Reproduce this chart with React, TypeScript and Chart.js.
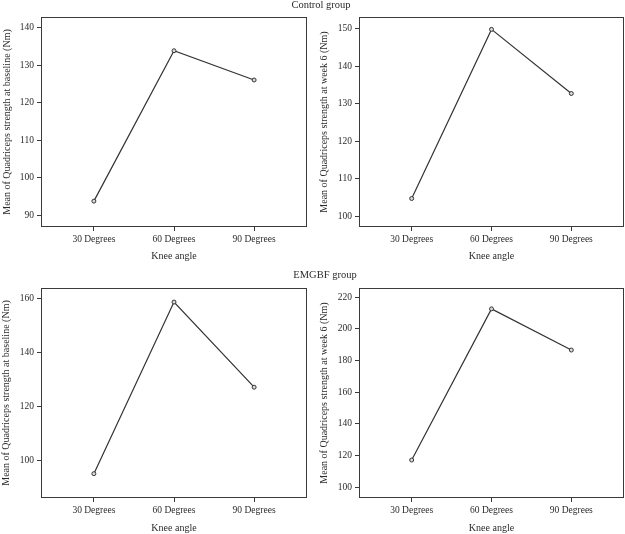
import React, { useEffect, useRef } from "react";
import { Chart, registerables } from "chart.js";

Chart.register(...registerables);

// ---- data ----
const kneeAngles = ["30 Degrees", "60 Degrees", "90 Degrees"];
const controlBaseline = [93.8, 133.9, 126.1];
const controlWeek6 = [104.7, 149.8, 132.7];
const emgbfBaseline = [95.2, 158.7, 127.2];
const emgbfWeek6 = [117.2, 212.7, 186.7];

const ticksControlBaseline = [90, 100, 110, 120, 130, 140];
const ticksControlWeek6 = [100, 110, 120, 130, 140, 150];
const ticksEmgbfBaseline = [100, 120, 140, 160];
const ticksEmgbfWeek6 = [100, 120, 140, 160, 180, 200, 220];

const groupTitles = ["Control group", "EMGBF group"];
const xTitle = "Knee angle";
const yTitleBaseline = "Mean of Quadriceps strength at baseline (Nm)";
const yTitleWeek6 = "Mean of Quadriceps strength at week 6 (Nm)";

const FONT = '"Liberation Serif", "DejaVu Serif", serif';
const INK = "#2b2b2b";

const framePlugin = {
  id: "frame",
  afterDraw(chart: any) {
    const { ctx, chartArea } = chart;
    const l = Math.round(chartArea.left) + 0.5;
    const t = Math.round(chartArea.top) + 0.5;
    const r = Math.round(chartArea.right) - 0.5;
    const b = Math.round(chartArea.bottom) - 0.5;
    ctx.save();
    ctx.strokeStyle = "#3a3a3a";
    ctx.lineWidth = 1;
    ctx.strokeRect(l, t, r - l, b - t);
    ctx.restore();
  },
};

type PanelProps = {
  values: number[];
  yTicks: number[];
  yMin: number;
  yMax: number;
  yTitle: string;
  left: number;
  top: number;
  width: number;
  height: number;
  padTop: number;
  padRight: number;
  yAxisWidth: number;
  xAxisHeight: number;
  yTitlePad: number;
};

function Panel(p: PanelProps) {
  const ref = useRef<HTMLCanvasElement | null>(null);
  useEffect(() => {
    if (!ref.current) return;
    const chart = new Chart(ref.current, {
      type: "line",
      data: {
        datasets: [
          {
            data: p.values.map((v, i) => ({ x: i, y: v })),
            borderColor: "#333",
            borderWidth: 1.2,
            pointRadius: 2,
            pointBorderWidth: 1,
            pointBorderColor: "#333",
            pointBackgroundColor: "#d8d8d8",
            tension: 0,
            fill: false,
          },
        ],
      },
      options: {
        animation: false,
        responsive: false,
        devicePixelRatio: 1,
        layout: { autoPadding: false, padding: { top: p.padTop, right: p.padRight, left: 0, bottom: 0 } },
        plugins: { legend: { display: false }, tooltip: { enabled: false }, title: { display: false } },
        scales: {
          x: {
            type: "linear",
            min: -0.66,
            max: 2.66,
            afterBuildTicks: (scale: any) => {
              scale.ticks = kneeAngles.map((_, i) => ({ value: i }));
            },
            afterFit: (scale: any) => {
              scale.height = p.xAxisHeight;
            },
            border: { display: false },
            grid: { drawOnChartArea: false, drawTicks: true, tickLength: 4, color: "#3a3a3a", tickColor: "#3a3a3a" },
            ticks: {
              autoSkip: false,
              maxRotation: 0,
              padding: 3,
              color: INK,
              font: { family: FONT, size: 9.5 },
              callback: (v: any) => kneeAngles[Math.round(Number(v))] ?? "",
            },
            title: {
              display: true,
              text: xTitle,
              color: INK,
              padding: 0,
              font: { family: FONT, size: 10 },
            },
          },
          y: {
            type: "linear",
            min: p.yMin,
            max: p.yMax,
            afterBuildTicks: (scale: any) => {
              scale.ticks = p.yTicks.map((v) => ({ value: v }));
            },
            afterFit: (scale: any) => {
              scale.width = p.yAxisWidth;
            },
            border: { display: false },
            grid: { drawOnChartArea: false, drawTicks: true, tickLength: 4, color: "#3a3a3a", tickColor: "#3a3a3a" },
            ticks: {
              padding: 3,
              color: INK,
              font: { family: FONT, size: 9.5 },
            },
            title: {
              display: true,
              text: p.yTitle,
              color: INK,
              padding: { top: p.yTitlePad, bottom: 0 },
              font: { family: FONT, size: 10 },
            },
          },
        },
      },
      plugins: [framePlugin],
    } as any);
    return () => chart.destroy();
  }, []);
  return (
    <canvas
      ref={ref}
      width={p.width}
      height={p.height}
      style={{ position: "absolute", left: p.left, top: p.top, width: p.width, height: p.height }}
    />
  );
}

function GroupTitle({ text, cx, cy }: { text: string; cx: number; cy: number }) {
  return (
    <div
      style={{
        position: "absolute",
        left: cx - 100,
        top: cy - 6,
        width: 200,
        height: 12,
        lineHeight: "12px",
        textAlign: "center",
        fontFamily: FONT,
        fontSize: 10.5,
        color: INK,
        whiteSpace: "nowrap",
      }}
    >
      {text}
    </div>
  );
}

export default function App() {
  return (
    <div style={{ position: "absolute", left: 0, top: 0, width: 625, height: 534, background: "#fff", overflow: "hidden" }}>
      <Panel
        values={controlBaseline}
        yTicks={ticksControlBaseline}
        yMin={86.9}
        yMax={142.9}
        yTitle={yTitleBaseline}
        left={0}
        top={0}
        width={312}
        height={262}
        padTop={17}
        padRight={5}
        yAxisWidth={41}
        xAxisHeight={35}
        yTitlePad={1}
      />
      <Panel
        values={controlWeek6}
        yTicks={ticksControlWeek6}
        yMin={97.1}
        yMax={153.1}
        yTitle={yTitleWeek6}
        left={312}
        top={0}
        width={313}
        height={262}
        padTop={17}
        padRight={1}
        yAxisWidth={47}
        xAxisHeight={35}
        yTitlePad={6}
      />
      <Panel
        values={emgbfBaseline}
        yTicks={ticksEmgbfBaseline}
        yMin={86.2}
        yMax={163.9}
        yTitle={yTitleBaseline}
        left={0}
        top={262}
        width={312}
        height={272}
        padTop={26}
        padRight={5}
        yAxisWidth={41}
        xAxisHeight={36}
        yTitlePad={0}
      />
      <Panel
        values={emgbfWeek6}
        yTicks={ticksEmgbfWeek6}
        yMin={93.2}
        yMax={225.9}
        yTitle={yTitleWeek6}
        left={312}
        top={262}
        width={313}
        height={272}
        padTop={26}
        padRight={1}
        yAxisWidth={47}
        xAxisHeight={36}
        yTitlePad={6}
      />
      <GroupTitle text={groupTitles[0]} cx={321} cy={5} />
      <GroupTitle text={groupTitles[1]} cx={325} cy={275} />
    </div>
  );
}
